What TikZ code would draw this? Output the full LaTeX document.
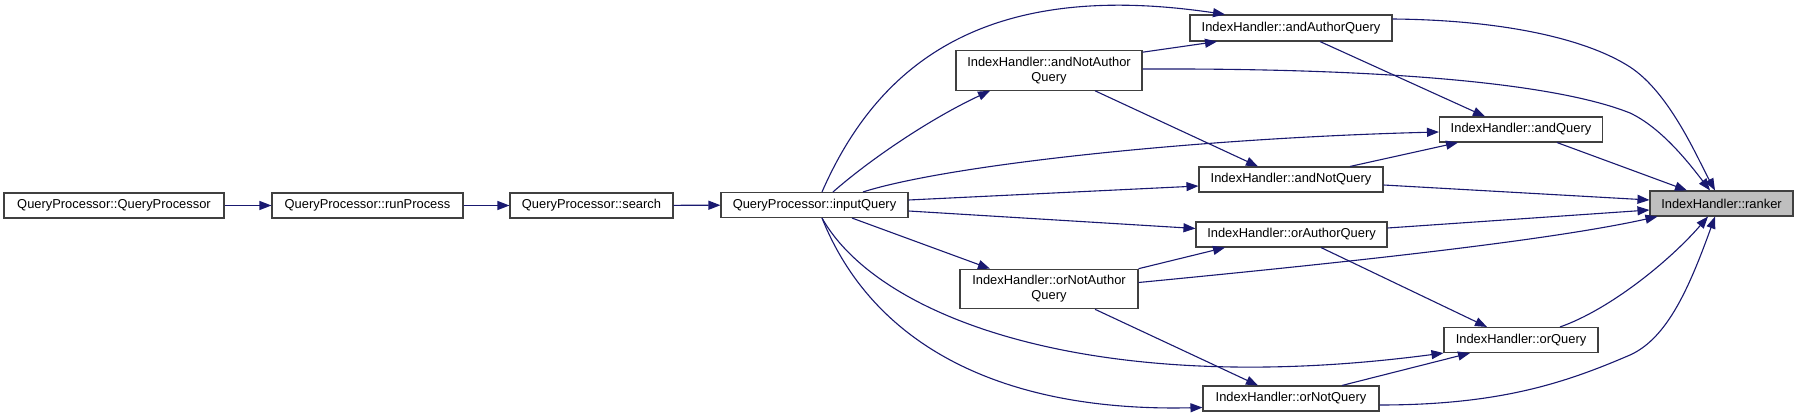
\documentclass[tikz,border=0pt]{standalone}
\usepackage{fontspec}
\setmainfont{Liberation Sans}
\usetikzlibrary{arrows.meta}
\definecolor{edgeblue}{HTML}{191970}
\definecolor{focusgray}{HTML}{BFBFBF}

\begin{document}
\begin{tikzpicture}[x=1pt, y=-1pt, >={Triangle[length=12pt,width=9pt]},
		fn/.style={draw=black!75, line width=1.1pt, inner sep=0pt, minimum height=25pt,
			font=\fontsize{12.9}{15}\selectfont, align=center},
		focus/.style={fn, fill=focusgray},
		calls/.style={->, edgeblue, line width=1.1pt}]
		\useasboundingbox[fill=white] (0,0) rectangle (1799,417);
		
		% 1. call chain on the left
		\node[fn, minimum width=220pt] (qp) at (114,205.5) {QueryProcessor::QueryProcessor};
		\node[fn, minimum width=191pt] (run) at (367.5,205.5) {QueryProcessor::runProcess};
		\node[fn, minimum width=163pt] (search) at (591.5,205.5) {QueryProcessor::search};
		\node[fn, minimum width=187pt] (input) at (814.5,205) {QueryProcessor::inputQuery};
		
		% 2. index handler functions
		\node[fn, minimum width=202pt, minimum height=26pt] (andauth) at (1291,28) {IndexHandler::andAuthorQuery};
		\node[fn, minimum width=186pt, minimum height=39.5pt] (andnotauth) at (1049,70.5) {IndexHandler::andNotAuthor\\Query};
		\node[fn, minimum width=163pt] (andq) at (1521,129.5) {IndexHandler::andQuery};
		\node[fn, minimum width=184pt] (andnotq) at (1291,179.5) {IndexHandler::andNotQuery};
		\node[fn, minimum width=191pt] (orauth) at (1291.5,234.5) {IndexHandler::orAuthorQuery};
		\node[fn, minimum width=178pt, minimum height=39.5pt] (ornotauth) at (1049,289) {IndexHandler::orNotAuthor\\Query};
		\node[fn, minimum width=154pt] (orq) at (1521,340) {IndexHandler::orQuery};
		\node[fn, minimum width=176pt] (ornotq) at (1291,398.5) {IndexHandler::orNotQuery};
		\node[focus, minimum width=143pt] (ranker) at (1721.5,203.5) {IndexHandler::ranker};
		
		% 3. straight calls along the chain
		\draw[calls] (qp) -- (run);
		\draw[calls] (run) -- (search);
		\draw[calls] (search) -- (input);
		
		% 4. calls from inputQuery
		\draw[calls] ([xshift=7.5]input.north) .. controls +(58,-132.5) and +(-235,-35) .. ([xshift=-66]andauth.north);
		\draw[calls] ([xshift=18.5]input.north) .. controls +(37,-32.5) and +(-60,28) .. ([xshift=-59]andnotauth.south);
		\draw[calls] ([xshift=48.5]input.north) .. controls +(87,-27.5) and +(-239.5,6) .. ([yshift=-2.5]andq.west);
		\draw[calls] ([yshift=5]input.east) -- ([yshift=-6.5]andnotq.west);
		\draw[calls] ([yshift=-6]input.east) -- ([yshift=6]orauth.west);
		\draw[calls] ([xshift=37.5]input.south) -- ([xshift=-59]ornotauth.north);
		\draw[calls] ([xshift=7.5]input.south) .. controls +(58,102.5) and +(-344,45.5) .. (orq.south west);
		\draw[calls] ([xshift=7.5]input.south) .. controls +(53,132.5) and +(-193,4.5) .. ([yshift=-9]ornotq.west);
		
		% 5. calls between the and-queries
		\draw[calls] ([yshift=-2]andnotauth.north east) -- ([xshift=-74]andauth.south);
		\draw[calls] ([xshift=46]andnotauth.south) -- ([xshift=-33]andnotq.north);
		\draw[calls] ([xshift=29]andauth.south) -- ([xshift=-36]andq.north);
		\draw[calls] ([xshift=59]andnotq.north) -- ([xshift=-63]andq.south);
		
		% 6. calls between the or-queries
		\draw[calls] (ornotauth.north east) -- ([xshift=-66.5]orauth.south);
		\draw[calls] ([xshift=46]ornotauth.south) -- ([xshift=-33]ornotq.north);
		\draw[calls] ([xshift=29.5]orauth.south) -- ([xshift=-34]orq.north);
		\draw[calls] ([xshift=51]ornotq.north) -- ([xshift=-51]orq.south);
		
		% 7. everything ends in ranker
		\draw[calls] ([yshift=9]andauth.east) .. controls +(108,1) and (1585,38) .. (1630,67)
			.. controls (1670,93) and +(-17,-31) .. ([xshift=-6.5]ranker.north);
		\draw[calls] ([yshift=1.5]andnotauth.east) .. controls +(258,-1) and (1560,85) .. (1630,113)
			.. controls (1662,128) and +(-20,-26) .. ([xshift=-11.5]ranker.north);
		\draw[calls] ([xshift=36]andq.south) -- ([xshift=-34.5]ranker.north);
		\draw[calls] ([yshift=-5.5]andnotq.east) -- ([yshift=3.5]ranker.west);
		\draw[calls] ([yshift=6.5]orauth.east) -- ([yshift=-6.5]ranker.west);
		\draw[calls] ([yshift=6.5]ornotauth.east) .. controls +(212,-20.5) and +(-108,24) .. ([xshift=8]ranker.south west);
		\draw[calls] ([xshift=39]orq.north) .. controls +(50,-17.5) and +(-38,44) .. ([xshift=-13.5]ranker.south);
		\draw[calls] ([yshift=-6.5]ornotq.east) .. controls +(120,0) and (1565,383) .. (1630,355)
			.. controls (1668,338) and +(-25,69) .. ([xshift=-6.5]ranker.south);
	\end{tikzpicture}
\end{document}
